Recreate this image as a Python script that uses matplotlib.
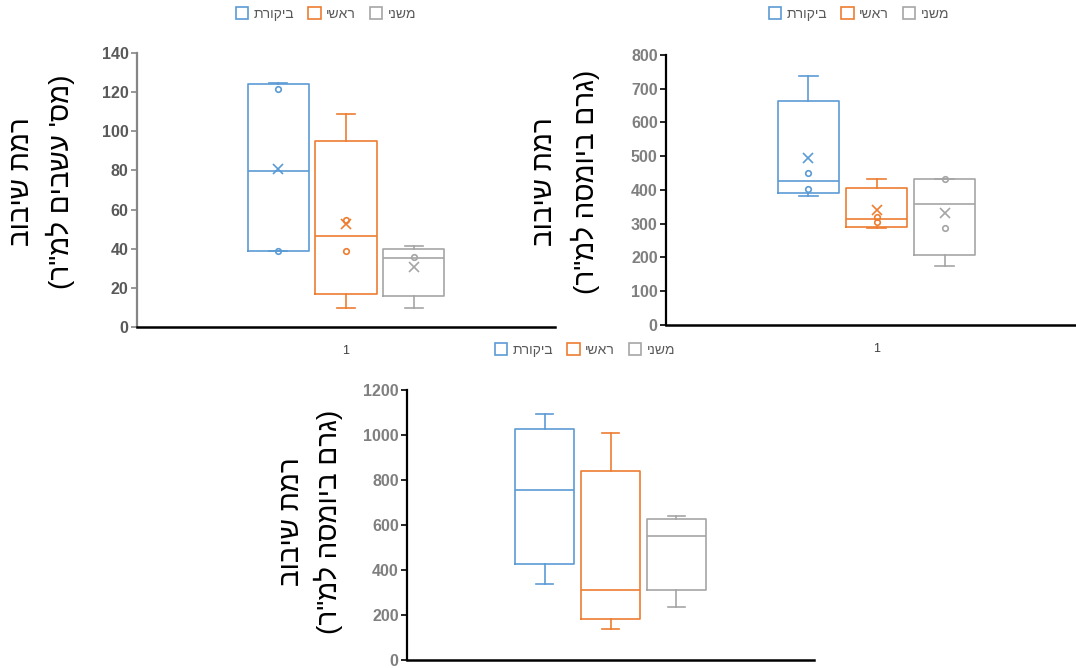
import matplotlib
matplotlib.use("Agg")
import matplotlib.pyplot as plt
from matplotlib.patches import Patch

# ---------------- data ----------------
series_names = ["ביקורת", "ראשי", "משני"]
category = ["1"]

ylabel_line1 = "רמת שיבוב"
ylabel_c1 = "(מס' עשבים למ\"ר)"
ylabel_c23 = "(גרם ביומסה למ\"ר)"

# chart 1 (count)
c1_lo = [38.8, 9.6, 9.7]
c1_q1 = [38.8, 16.9, 15.8]
c1_med = [79.8, 46.7, 35.4]
c1_q3 = [124.2, 95.0, 39.9]
c1_hi = [124.5, 109.0, 41.4]
c1_mean = [80.8, 52.5, 30.8]
c1_points = [[121.4, 38.8], [54.9, 38.8], [35.6]]

# chart 2 (biomass)
c2_lo = [383, 288, 176]
c2_q1 = [390, 291, 207]
c2_med = [426, 314, 359]
c2_q3 = [664, 407, 433]
c2_hi = [738, 433, 433]
c2_mean = [494, 341, 331]
c2_points = [[449, 404], [321, 305], [433, 288]]

# chart 3 (biomass)
c3_lo = [336, 139, 237]
c3_q1 = [428, 181, 312]
c3_med = [757, 312, 550]
c3_q3 = [1027, 838, 625]
c3_hi = [1095, 1010, 640]

colors = ["#5B9BD5", "#ED7D31", "#A5A5A5"]

HEB = ["Liberation Sans", "DejaVu Sans"]


def visual(s):
    """Convert logical RTL Hebrew string to visual (left-to-right) order."""
    swap = {"(": ")", ")": "("}
    return "".join(swap.get(ch, ch) for ch in s[::-1])


W, H = 1076, 668
fig = plt.figure(figsize=(W / 100, H / 100), dpi=100)


def px_axes(left, top, right, bottom):
    return fig.add_axes([left / W, 1 - bottom / H, (right - left) / W, (bottom - top) / H])


def draw_chart(ax, lo, q1, med, q3, hi, mean, points, ymax, ystep, ycol, spine_col, show_cat=True):
    offsets = [-0.162, 0.0, 0.162]
    bw = 0.146
    for i in range(3):
        st = dict(whislo=lo[i], q1=q1[i], med=med[i], q3=q3[i], whishi=hi[i],
                  fliers=points[i] if points is not None else [])
        if mean is not None:
            st["mean"] = mean[i]
        c = colors[i]
        ax.bxp([st], positions=[1 + offsets[i]], widths=bw, capwidths=bw * 0.3,
               showmeans=mean is not None, showfliers=True, patch_artist=False,
               boxprops=dict(color=c, linewidth=1.2),
               whiskerprops=dict(color=c, linewidth=1.2),
               capprops=dict(color=c, linewidth=1.2),
               medianprops=dict(color=c, linewidth=1.2),
               meanprops=dict(marker="x", markeredgecolor=c, markersize=7, markeredgewidth=1.2),
               flierprops=dict(marker="o", markerfacecolor="none", markeredgecolor=c,
                               markersize=4, markeredgewidth=1.2),
               manage_ticks=False)
    ax.set_xlim(0.5, 1.5)
    ax.set_ylim(0, ymax)
    ax.set_yticks(range(0, ymax + 1, ystep))
    ax.set_xticks([1])
    if show_cat:
        ax.set_xticklabels(category, fontsize=9, color="#404040", family=HEB)
    else:
        ax.set_xticklabels([""])
    for s in ["top", "right"]:
        ax.spines[s].set_visible(False)
    ax.spines["bottom"].set_color("black")
    ax.spines["bottom"].set_linewidth(1.8)
    ax.spines["left"].set_color(spine_col)
    ax.spines["left"].set_linewidth(1.6)
    ax.tick_params(axis="x", length=0, pad=13)
    ax.tick_params(axis="y", length=4, width=1.2, color=spine_col, pad=2, direction="out")
    for lab in ax.get_yticklabels():
        lab.set_fontweight("bold")
        lab.set_fontsize(11.5)
        lab.set_color(ycol)
        lab.set_family(HEB)
    ax.set_facecolor("none")


def ylabel(x1, x2, yc, line2):
    fig.text(x1 / W, 1 - yc / H, visual(ylabel_line1), rotation=90, ha="center", va="center",
             fontsize=20, family=HEB, color="black")
    fig.text(x2 / W, 1 - yc / H, visual(line2), rotation=90, ha="center", va="center",
             fontsize=20, family=HEB, color="black")


def legend(xc, yc):
    handles = [Patch(facecolor="white", edgecolor=c, linewidth=1.2, label=visual(n))
               for n, c in zip(series_names, colors)]
    fig.legend(handles=handles, loc="center", bbox_to_anchor=(xc / W, 1 - yc / H), ncol=3,
               frameon=False, handlelength=0.9, handleheight=0.9, handletextpad=0.4,
               columnspacing=1.0, prop={"family": HEB, "size": 10}, labelcolor="#595959")


ax1 = px_axes(137, 53, 555, 327)
draw_chart(ax1, c1_lo, c1_q1, c1_med, c1_q3, c1_hi, c1_mean, c1_points, 140, 20, "#595959", "#868686")
ylabel(22, 60, 182, ylabel_c1)
legend(326, 14)

ax2 = px_axes(666, 55, 1087, 325)
draw_chart(ax2, c2_lo, c2_q1, c2_med, c2_q3, c2_hi, c2_mean, c2_points, 800, 100, "#7F7F7F", "black")
ylabel(545, 585, 182, ylabel_c23)
legend(859, 14)

ax3 = px_axes(407, 390, 814, 660)
draw_chart(ax3, c3_lo, c3_q1, c3_med, c3_q3, c3_hi, None, None, 1200, 200, "#7F7F7F", "black",
           show_cat=False)
ylabel(292, 328, 522, ylabel_c23)
legend(585, 350)

fig.savefig("out.png", dpi=100)
